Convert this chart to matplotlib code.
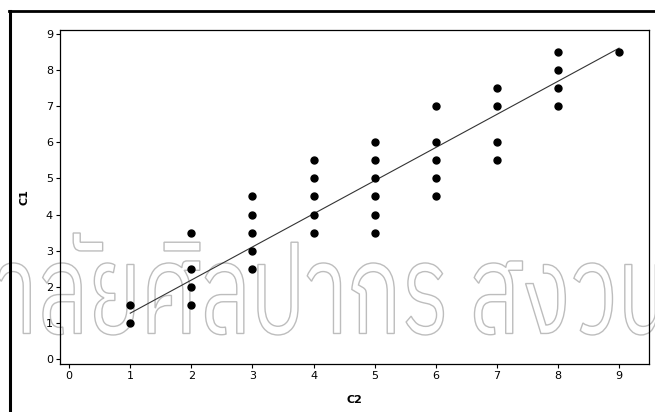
import matplotlib
matplotlib.use("Agg")
from matplotlib import pyplot as plt
from matplotlib import ft2font
from matplotlib.font_manager import FontProperties, fontManager
from matplotlib.textpath import TextPath
from matplotlib.patches import PathPatch
from matplotlib.lines import Line2D
from matplotlib.transforms import Affine2D

# C2 (x) and C1 (y) observations
c2 = [1, 1,
      2, 2, 2, 2,
      3, 3, 3, 3, 3,
      4, 4, 4, 4, 4,
      5, 5, 5, 5, 5, 5,
      6, 6, 6, 6, 6,
      7, 7, 7, 7,
      8, 8, 8, 8,
      9]
c1 = [1.0, 1.5,
      1.5, 2.0, 2.5, 3.5,
      2.5, 3.0, 3.5, 4.0, 4.5,
      3.5, 4.0, 4.5, 5.0, 5.5,
      3.5, 4.0, 4.5, 5.0, 5.5, 6.0,
      4.5, 5.0, 5.5, 6.0, 7.0,
      5.5, 6.0, 7.0, 7.5,
      7.0, 7.5, 8.0, 8.5,
      8.5]

# fitted line C1 = a + b*C2
fit_a = 0.35
fit_b = 0.9175
fit_x = [1, 9]

ticks = list(range(10))
watermark = "าลัยศิลปากร สงวน"

W, H = 655, 412
fig = plt.figure(figsize=(W / 100, H / 100), dpi=100)
fig.patch.set_facecolor("white")

ax = fig.add_axes([60 / W, (H - 364) / H, 589 / W, 334 / H])
ax.set_facecolor("none")

ax.plot(fit_x, [fit_a + fit_b * x for x in fit_x], color="#333333", lw=0.8, zorder=2)
ax.plot(c2, c1, "o", color="black", ms=5, mec="black", zorder=3)

ax.set_xlim(-0.15, 9.49)
ax.set_ylim(-0.14, 9.11)
ax.set_xticks(ticks)
ax.set_yticks(ticks)
ax.tick_params(direction="out", length=3, width=0.8, labelsize=8, pad=2, colors="black")
for s in ax.spines.values():
    s.set_linewidth(0.9)
    s.set_color("black")

ax.set_xlabel("C2", fontsize=8, fontweight="bold", labelpad=10)
ax.set_ylabel("C1", fontsize=8, fontweight="bold", labelpad=12)

# window frame (top and left edges)
fig.add_artist(Line2D([9 / W, 1], [1 - 11 / H, 1 - 11 / H], color="black", lw=2,
                      transform=fig.transFigure))
fig.add_artist(Line2D([10 / W, 10 / W], [0, 1 - 11 / H], color="black", lw=2.2,
                      transform=fig.transFigure))


def thai_font():
    found = []
    for f in fontManager.ttflist:
        try:
            cmap = ft2font.FT2Font(f.fname).get_charmap()
        except Exception:
            continue
        if ord("ก") in cmap:
            found.append(f)
    if not found:
        return None
    # loopless sans faces first
    def rank(f):
        name = f.name.lower()
        score = 0
        if "looped" in name:
            score += 2
        if "thai" not in name:
            score += 1
        if f.weight not in (400, "normal", "regular"):
            score += 1
        return score
    found.sort(key=rank)
    return found[0].fname


fname = thai_font()
prop = FontProperties(fname=fname) if fname else FontProperties(family="DejaVu Sans")
path = TextPath((0, 0), watermark, size=100, prop=prop)
ext = path.get_extents()
# stretch the outlined text across the lower part of the figure
px0, px1, py0, py1 = -3, 668, H - 335, H - 233
tr = (Affine2D().translate(-ext.x0, -ext.y0)
      .scale((px1 - px0) / ext.width / W, (py1 - py0) / ext.height / H)
      .translate(px0 / W, py0 / H))
wm = PathPatch(path, transform=tr + fig.transFigure, facecolor="none",
               edgecolor="#bdbdbd", lw=1.0, zorder=-1)
fig.add_artist(wm)

fig.savefig("out.png", dpi=100)
